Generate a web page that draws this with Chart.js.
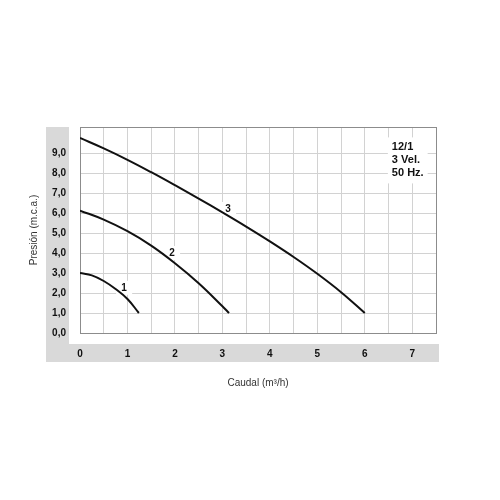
<!DOCTYPE html>
<html>
<head>
<meta charset="utf-8">
<script src="https://cdn.jsdelivr.net/npm/chart.js"></script>
<style>
    html, body { margin: 0; padding: 0; background: #fff; }
    #wrap { width: 500px; height: 500px; }
</style>
</head>
<body>
<div id="wrap"><canvas id="pumpGraph" width="500" height="500"></canvas></div>

<script>
    // Caudal (m3/h) / Presion (m.c.a.)
    const flow1 = [0, 0.25, 0.5, 0.75, 1.0, 1.24];
    const head1 = [3.0, 2.88, 2.6, 2.2, 1.7, 1.0];

    const flow2 = [0, 0.5, 1.0, 1.5, 2.0, 2.5, 3.0, 3.14];
    const head2 = [6.12, 5.67, 5.09, 4.37, 3.49, 2.49, 1.34, 1.0];

    const flow3 = [0, 0.5, 1.0, 1.5, 2.0, 2.5, 3.0, 3.5, 4.0, 4.5, 5.0, 5.5, 6.0];
    const head3 = [9.75, 9.23, 8.66, 8.04, 7.39, 6.72, 6.03, 5.32, 4.58, 3.80, 2.96, 2.04, 1.0];

    const curveNames = ['1', '2', '3'];
    const curveLabelFlow = [0.93, 1.94, 3.12];
    const curveLabelHead = [2.26, 4.0, 6.2];

    const infoLines = ['12/1', '3 Vel.', '50 Hz.'];
    const infoFlow = 6.57;
    const infoHead = 9.28;

    const xMax = 7.5;
    const xStep = 0.5;
    const yTickValues = [0, 1, 2, 3, 4, 5, 6, 7, 8, 9];
    const yMax = 10.3;

    const FONT = "'Liberation Sans', Arial, Helvetica, sans-serif";
    const GRID = '#d2d2d2';
    const EDGE = '#8c8c8c';
    const BAND = '#d9d9d9';
    const INK = '#111111';

    function toPoints(xs, ys) {
        return xs.map((x, i) => ({ x: x, y: ys[i] }));
    }

    function curve(xs, ys) {
        return {
            data: toPoints(xs, ys),
            borderColor: INK,
            borderWidth: 2,
            pointRadius: 0,
            fill: false,
            tension: 0.4
        };
    }

    // gray L-shaped band behind the tick labels
    const bandPlugin = {
        id: 'band',
        beforeDraw(chart) {
            const ctx = chart.ctx;
            const a = chart.chartArea;
            ctx.save();
            ctx.fillStyle = BAND;
            ctx.fillRect(a.left - 34, a.top, 23, a.bottom + 29 - a.top);
            ctx.fillRect(a.left - 34, a.bottom + 11, a.right + 3 - (a.left - 34), 18);
            ctx.restore();
        }
    };

    // white patches over the grid first, then the curve numbers and the info text
    const notesPlugin = {
        id: 'notes',
        beforeDatasetsDraw(chart) {
            const ctx = chart.ctx;
            const xs = chart.scales.x;
            const ys = chart.scales.y;
            ctx.save();
            ctx.fillStyle = '#fff';
            curveNames.forEach((name, i) => {
                const px = xs.getPixelForValue(curveLabelFlow[i]);
                const py = ys.getPixelForValue(curveLabelHead[i]);
                ctx.fillRect(px - 8, py - 7, 16, 14);
            });
            ctx.font = 'bold 11px ' + FONT;
            const left = xs.getPixelForValue(infoFlow);
            const top = ys.getPixelForValue(infoHead);
            const w = Math.max(...infoLines.map(t => ctx.measureText(t).width));
            ctx.fillRect(left - 4, top - 10, w + 8, 13 * (infoLines.length - 1) + 20);
            ctx.restore();
        },
        afterDatasetsDraw(chart) {
            const ctx = chart.ctx;
            const xs = chart.scales.x;
            const ys = chart.scales.y;
            ctx.save();
            ctx.textBaseline = 'middle';
            ctx.fillStyle = INK;

            ctx.font = 'bold 10px ' + FONT;
            ctx.textAlign = 'center';
            curveNames.forEach((name, i) => {
                ctx.fillText(name, xs.getPixelForValue(curveLabelFlow[i]), ys.getPixelForValue(curveLabelHead[i]));
            });

            ctx.font = 'bold 11px ' + FONT;
            ctx.textAlign = 'left';
            const left = xs.getPixelForValue(infoFlow);
            const top = ys.getPixelForValue(infoHead);
            infoLines.forEach((t, i) => ctx.fillText(t, left, top + i * 13));
            ctx.restore();
        }
    };

    const config = {
        type: 'line',
        data: {
            datasets: [curve(flow1, head1), curve(flow2, head2), curve(flow3, head3)]
        },
        options: {
            responsive: false,
            animation: false,
            layout: { padding: { left: 24, right: 64, top: 127, bottom: 107 } },
            plugins: {
                legend: { display: false },
                tooltip: { enabled: false }
            },
            scales: {
                x: {
                    type: 'linear',
                    min: 0,
                    max: xMax,
                    afterFit: (scale) => { scale.height = 60; },
                    ticks: {
                        stepSize: xStep,
                        padding: 15,
                        maxRotation: 0,
                        autoSkip: false,
                        color: INK,
                        font: { family: FONT, size: 10, weight: 'bold' },
                        callback: (v) => Number.isInteger(v) ? String(v) : ''
                    },
                    grid: {
                        drawTicks: false,
                        color: (c) => (c.tick && (c.tick.value === 0 || c.tick.value === xMax)) ? EDGE : GRID
                    },
                    border: { color: EDGE },
                    title: {
                        display: true,
                        text: 'Caudal (m³/h)',
                        color: '#333',
                        font: { family: FONT, size: 10 }
                    }
                },
                y: {
                    type: 'linear',
                    min: 0,
                    max: yMax,
                    afterFit: (scale) => { scale.width = 56; },
                    afterBuildTicks: (scale) => {
                        scale.ticks = yTickValues.map(v => ({ value: v })).concat([{ value: yMax }]);
                    },
                    ticks: {
                        padding: 14,
                        color: INK,
                        font: { family: FONT, size: 10, weight: 'bold' },
                        callback: (v) => v === yMax ? '' : v.toFixed(1).replace('.', ',')
                    },
                    grid: {
                        drawTicks: false,
                        color: (c) => (c.tick && (c.tick.value === 0 || c.tick.value === yMax)) ? EDGE : GRID
                    },
                    border: { color: EDGE },
                    title: {
                        display: true,
                        text: 'Presión (m.c.a.)',
                        color: '#333',
                        font: { family: FONT, size: 10 }
                    }
                }
            }
        },
        plugins: [bandPlugin, notesPlugin]
    };

    new Chart(document.getElementById('pumpGraph'), config);
</script>
</body>
</html>
